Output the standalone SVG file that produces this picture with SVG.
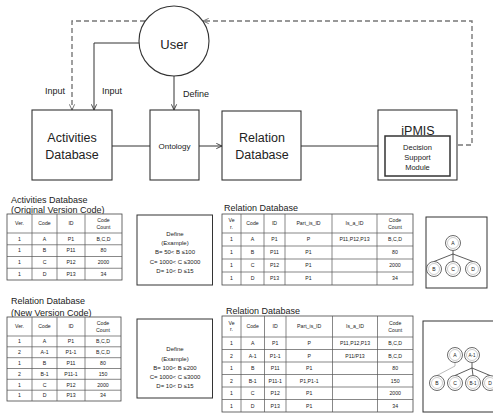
<svg xmlns="http://www.w3.org/2000/svg" width="493" height="415" viewBox="0 0 493 415">
<style>
text{font-family:"Liberation Sans",Arial,sans-serif;fill:#222;text-anchor:middle}
.box{fill:#fff;stroke:#333;stroke-width:1.1}
.ln{fill:none;stroke:#333;stroke-width:1}
.dash{fill:none;stroke:#777;stroke-width:1.4;stroke-dasharray:5 3}
.tb{fill:#fff;stroke:#444;stroke-width:0.8}
.tl{stroke:#555;stroke-width:0.7}
.t{font-size:5.2px}
.ttl{font-size:9px;text-anchor:start}
.df{font-size:6px}
.nd{fill:#fff;stroke:#444;stroke-width:0.8}
.ni{fill:none;stroke:#999;stroke-width:0.5}
.nt{font-size:5px}
.big{font-size:12.5px}
</style>
<defs>
<marker id="ah" viewBox="0 0 8 8" refX="7.5" refY="4" markerWidth="7" markerHeight="7" orient="auto" markerUnits="userSpaceOnUse"><path d="M1,1 L7.5,4 L1,7" fill="none" stroke="#333" stroke-width="1"/></marker>
<marker id="ahg" viewBox="0 0 8 8" refX="7.5" refY="4" markerWidth="7" markerHeight="7" orient="auto" markerUnits="userSpaceOnUse"><path d="M1,1 L7.5,4 L1,7" fill="none" stroke="#666" stroke-width="1"/></marker>
</defs>
<rect width="493" height="415" fill="#fff"/>

<g id="connectors">
<path class="dash" d="M450,145 H472 V21 H203" marker-end="url(#ahg)"/>
<path class="dash" d="M145,21 H72 V110" marker-end="url(#ahg)"/>
<path class="ln" d="M139,43 H94 V110" marker-end="url(#ah)"/>
<path class="ln" d="M174,76 V110" marker-end="url(#ah)"/>
<path class="ln" d="M112,146 H150"/>
<path class="ln" d="M199,146 H222" marker-end="url(#ah)"/>
<path class="ln" d="M301,146 H385" marker-end="url(#ah)"/>
<text x="55" y="94" style="font-size:9px">Input</text>
<text x="112" y="94" style="font-size:9px">Input</text>
<text x="196" y="97" style="font-size:9px">Define</text>
</g>

<g id="user">
<circle cx="174" cy="41" r="35" class="box"/>
<text x="174" y="49" style="font-size:13px">User</text>
</g>

<g id="activities-db">
<rect x="32" y="110" width="80" height="70" class="box"/>
<text class="big" x="72" y="142">Activities</text>
<text class="big" x="72" y="159">Database</text>
</g>

<g id="ontology">
<rect x="150" y="110" width="49" height="70" class="box"/>
<text x="174.5" y="149" style="font-size:8px">Ontology</text>
</g>

<g id="relation-db">
<rect x="222" y="111" width="79" height="69" class="box"/>
<text class="big" x="262" y="142">Relation</text>
<text class="big" x="262" y="159">Database</text>
</g>

<g id="ipmis">
<rect x="378" y="110" width="79" height="70" class="box"/>
<text x="418" y="134.5" style="font-size:12.5px">iPMIS</text>
<rect x="385" y="136" width="65" height="40" class="box" style="stroke-width:1.5"/>
<text x="417.5" y="150" style="font-size:7.5px">Decision</text>
<text x="417.5" y="160" style="font-size:7.5px">Support</text>
<text x="417.5" y="170" style="font-size:7.5px">Module</text>
</g>

<g id="table-activities-original">
<text class="ttl" x="11" y="203">Activities Database</text>
<text class="ttl" x="11" y="212.5">(Original Version Code)</text>
<rect class="tb" x="7" y="214" width="115" height="66"/>
<path class="tl" d="M7,233 H122 M7,244.75 H122 M7,256.5 H122 M7,268.25 H122 M32,214 V280 M57,214 V280 M85,214 V280"/>
<text class="t" x="19.5" y="225">Ver.</text><text class="t" x="44.5" y="225">Code</text><text class="t" x="71" y="225">ID</text>
<text class="t" x="103.5" y="222">Code</text><text class="t" x="103.5" y="228.5">Count</text>
<text class="t" x="19.5" y="240.7">1</text><text class="t" x="44.5" y="240.7">A</text><text class="t" x="71" y="240.7">P1</text><text class="t" x="103.5" y="240.7">B,C,D</text>
<text class="t" x="19.5" y="252.4">1</text><text class="t" x="44.5" y="252.4">B</text><text class="t" x="71" y="252.4">P11</text><text class="t" x="103.5" y="252.4">80</text>
<text class="t" x="19.5" y="264.2">1</text><text class="t" x="44.5" y="264.2">C</text><text class="t" x="71" y="264.2">P12</text><text class="t" x="103.5" y="264.2">2000</text>
<text class="t" x="19.5" y="275.9">1</text><text class="t" x="44.5" y="275.9">D</text><text class="t" x="71" y="275.9">P13</text><text class="t" x="103.5" y="275.9">34</text>
</g>

<g id="define-1">
<rect class="tb" x="137" y="215" width="75.5" height="70" style="stroke:#333;stroke-width:1"/>
<text class="df" x="175" y="236">Define</text>
<text class="df" x="175" y="245">(Example)</text>
<text class="df" x="175" y="254">B= 50&lt; B ≤100</text>
<text class="df" x="175" y="264">C= 1000&lt; C ≤3000</text>
<text class="df" x="175" y="273">D= 10&lt; D ≤15</text>
</g>

<g id="table-relation-1">
<text class="ttl" x="224" y="211">Relation Database</text>
<rect class="tb" x="222" y="214" width="191" height="71"/>
<path class="tl" d="M222,233 H413 M222,246 H413 M222,259 H413 M222,272 H413 M241,214 V285 M264,214 V285 M285,214 V285 M332,214 V285 M377,214 V285"/>
<text class="t" x="231.5" y="222">Ve</text><text class="t" x="231.5" y="228.5">r.</text>
<text class="t" x="252.5" y="225">Code</text><text class="t" x="274.5" y="225">ID</text><text class="t" x="308.5" y="225">Part_is_ID</text><text class="t" x="354.5" y="225">Is_a_ID</text>
<text class="t" x="395" y="222">Code</text><text class="t" x="395" y="228.5">Count</text>
<text class="t" x="231.5" y="241.3">1</text><text class="t" x="252.5" y="241.3">A</text><text class="t" x="274.5" y="241.3">P1</text><text class="t" x="308.5" y="241.3">P</text><text class="t" x="354.5" y="241.3">P11,P12,P13</text><text class="t" x="395" y="241.3">B,C,D</text>
<text class="t" x="231.5" y="254.3">1</text><text class="t" x="252.5" y="254.3">B</text><text class="t" x="274.5" y="254.3">P11</text><text class="t" x="308.5" y="254.3">P1</text><text class="t" x="395" y="254.3">80</text>
<text class="t" x="231.5" y="267.3">1</text><text class="t" x="252.5" y="267.3">C</text><text class="t" x="274.5" y="267.3">P12</text><text class="t" x="308.5" y="267.3">P1</text><text class="t" x="395" y="267.3">2000</text>
<text class="t" x="231.5" y="280.3">1</text><text class="t" x="252.5" y="280.3">D</text><text class="t" x="274.5" y="280.3">P13</text><text class="t" x="308.5" y="280.3">P1</text><text class="t" x="395" y="280.3">34</text>
</g>

<g id="tree-1">
<rect class="tb" x="426" y="217" width="61" height="71" style="stroke:#333;stroke-width:1"/>
<path class="ln" style="stroke-width:0.8" d="M453,250.5 V254 M453,254 L434,261.5 M453,254 V261.5 M453,254 L473,261.5"/>
<circle class="nd" cx="453" cy="243" r="7.5"/><circle class="ni" cx="453" cy="243" r="5.5"/><text class="nt" x="453" y="244.8">A</text>
<circle class="nd" cx="434" cy="269" r="7.5"/><circle class="ni" cx="434" cy="269" r="5.5"/><text class="nt" x="434" y="270.8">B</text>
<circle class="nd" cx="453" cy="269" r="7.5"/><circle class="ni" cx="453" cy="269" r="5.5"/><text class="nt" x="453" y="270.8">C</text>
<circle class="nd" cx="473" cy="269" r="7.5"/><circle class="ni" cx="473" cy="269" r="5.5"/><text class="nt" x="473" y="270.8">D</text>
</g>

<g id="table-relation-new">
<text class="ttl" x="11" y="303.5">Relation Database</text>
<text class="ttl" x="11" y="315.5">(New Version Code)</text>
<rect class="tb" x="7" y="317" width="114" height="84"/>
<path class="tl" d="M7,336 H121 M7,346.8 H121 M7,357.7 H121 M7,368.5 H121 M7,379.3 H121 M7,390.2 H121 M32,317 V401 M57,317 V401 M85,317 V401"/>
<text class="t" x="19.5" y="328">Ver.</text><text class="t" x="44.5" y="328">Code</text><text class="t" x="71" y="328">ID</text>
<text class="t" x="103" y="325">Code</text><text class="t" x="103" y="331.5">Count</text>
<text class="t" x="19.5" y="343.2">1</text><text class="t" x="44.5" y="343.2">A</text><text class="t" x="71" y="343.2">P1</text><text class="t" x="103" y="343.2">B,C,D</text>
<text class="t" x="19.5" y="354.1">2</text><text class="t" x="44.5" y="354.1">A-1</text><text class="t" x="71" y="354.1">P1-1</text><text class="t" x="103" y="354.1">B,C,D</text>
<text class="t" x="19.5" y="364.9">1</text><text class="t" x="44.5" y="364.9">B</text><text class="t" x="71" y="364.9">P11</text><text class="t" x="103" y="364.9">80</text>
<text class="t" x="19.5" y="375.7">2</text><text class="t" x="44.5" y="375.7">B-1</text><text class="t" x="71" y="375.7">P11-1</text><text class="t" x="103" y="375.7">150</text>
<text class="t" x="19.5" y="386.6">1</text><text class="t" x="44.5" y="386.6">C</text><text class="t" x="71" y="386.6">P12</text><text class="t" x="103" y="386.6">2000</text>
<text class="t" x="19.5" y="397.4">1</text><text class="t" x="44.5" y="397.4">D</text><text class="t" x="71" y="397.4">P13</text><text class="t" x="103" y="397.4">34</text>
</g>

<g id="define-2">
<rect class="tb" x="137" y="319" width="75.5" height="79" style="stroke:#333;stroke-width:1"/>
<text class="df" x="175" y="351">Define</text>
<text class="df" x="175" y="361">(Example)</text>
<text class="df" x="175" y="370">B= 100&lt; B ≤200</text>
<text class="df" x="175" y="379">C= 1000&lt; C ≤3000</text>
<text class="df" x="175" y="388">D= 10&lt; D ≤15</text>
</g>

<g id="table-relation-2">
<text class="ttl" x="226" y="313.5">Relation Database</text>
<rect class="tb" x="222" y="316" width="191" height="96"/>
<path class="tl" d="M222,337 H413 M222,349.5 H413 M222,362 H413 M222,374.5 H413 M222,387 H413 M222,399.5 H413 M241,316 V412 M264.5,316 V412 M286,316 V412 M332.5,316 V412 M377.5,316 V412"/>
<text class="t" x="231.5" y="324.5">Ve</text><text class="t" x="231.5" y="331">r.</text>
<text class="t" x="252.7" y="328.3">Code</text><text class="t" x="275.2" y="328.3">ID</text><text class="t" x="309.2" y="328.3">Part_is_ID</text><text class="t" x="355" y="328.3">Is_a_ID</text>
<text class="t" x="395.2" y="325">Code</text><text class="t" x="395.2" y="331.5">Count</text>
<text class="t" x="231.5" y="345">1</text><text class="t" x="252.7" y="345">A</text><text class="t" x="275.2" y="345">P1</text><text class="t" x="309.2" y="345">P</text><text class="t" x="355" y="345">P11,P12,P13</text><text class="t" x="395.2" y="345">B,C,D</text>
<text class="t" x="231.5" y="357.5">2</text><text class="t" x="252.7" y="357.5">A-1</text><text class="t" x="275.2" y="357.5">P1-1</text><text class="t" x="309.2" y="357.5">P</text><text class="t" x="355" y="357.5">P11/P13</text><text class="t" x="395.2" y="357.5">B,C,D</text>
<text class="t" x="231.5" y="370">1</text><text class="t" x="252.7" y="370">B</text><text class="t" x="275.2" y="370">P11</text><text class="t" x="309.2" y="370">P1</text><text class="t" x="395.2" y="370">80</text>
<text class="t" x="231.5" y="382.5">2</text><text class="t" x="252.7" y="382.5">B-1</text><text class="t" x="275.2" y="382.5">P11-1</text><text class="t" x="309.2" y="382.5">P1,P1-1</text><text class="t" x="395.2" y="382.5">150</text>
<text class="t" x="231.5" y="395">1</text><text class="t" x="252.7" y="395">C</text><text class="t" x="275.2" y="395">P12</text><text class="t" x="309.2" y="395">P1</text><text class="t" x="395.2" y="395">2000</text>
<text class="t" x="231.5" y="407.5">1</text><text class="t" x="252.7" y="407.5">D</text><text class="t" x="275.2" y="407.5">P13</text><text class="t" x="309.2" y="407.5">P1</text><text class="t" x="395.2" y="407.5">34</text>
</g>

<g id="tree-2">
<rect class="tb" x="423" y="321" width="76" height="91" style="stroke:#333;stroke-width:1"/>
<path fill="none" stroke="#aaa" stroke-width="0.8" d="M455,362.5 V366 L437,375.5"/>
<path class="ln" style="stroke-width:0.8" d="M472,362.5 V368 M472,368 L455,375.5 M472,368 L473,375.5 M472,368 L490,375.5"/>
<circle class="nd" cx="455" cy="355" r="7.5"/><circle class="ni" cx="455" cy="355" r="5.5"/><text class="nt" x="455" y="356.8">A</text>
<circle class="nd" cx="472" cy="355" r="7.5"/><circle class="ni" cx="472" cy="355" r="5.5"/><text class="nt" x="472" y="356.8" style="font-size:4.5px">A-1</text>
<circle class="nd" cx="437" cy="383" r="7.5"/><circle class="ni" cx="437" cy="383" r="5.5"/><text class="nt" x="437" y="384.8">B</text>
<circle class="nd" cx="455" cy="383" r="7.5"/><circle class="ni" cx="455" cy="383" r="5.5"/><text class="nt" x="455" y="384.8">C</text>
<circle class="nd" cx="473" cy="383" r="7.5"/><circle class="ni" cx="473" cy="383" r="5.5"/><text class="nt" x="473" y="384.8" style="font-size:4.5px">B-1</text>
<circle class="nd" cx="490" cy="383" r="7.5"/><circle class="ni" cx="490" cy="383" r="5.5"/><text class="nt" x="490" y="384.8">D</text>
</g>
</svg>
